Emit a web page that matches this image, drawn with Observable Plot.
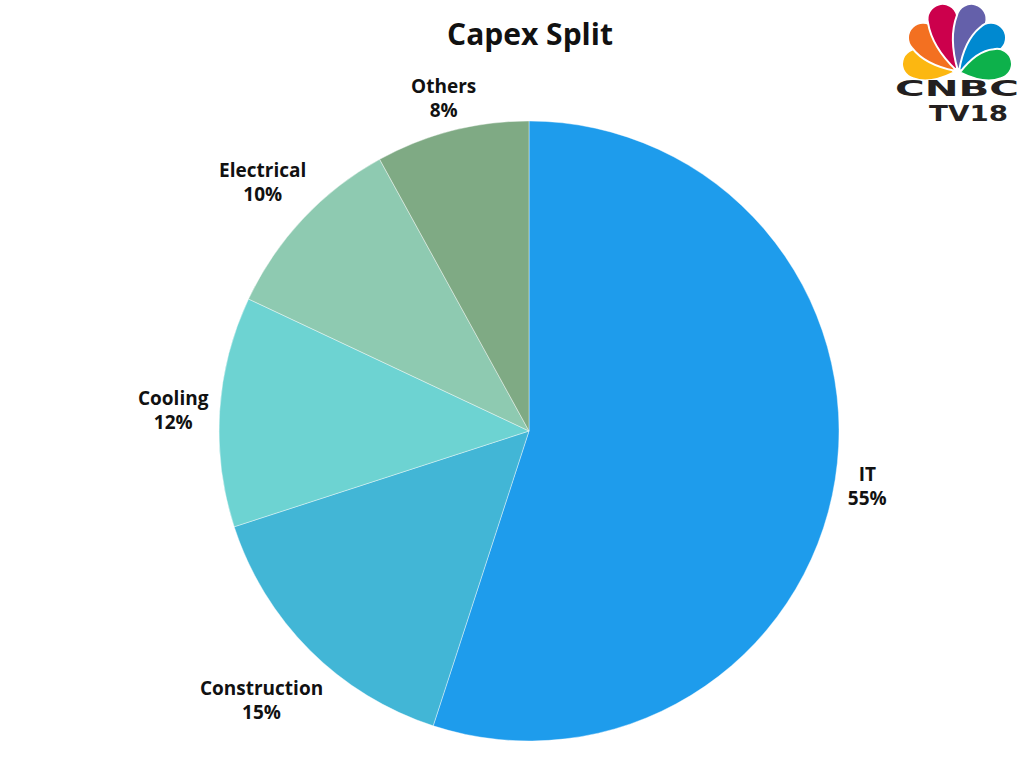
<!DOCTYPE html>
<html>
<head>
<meta charset="utf-8">
<script src="https://cdn.jsdelivr.net/npm/d3@7"></script>
<script src="https://cdn.jsdelivr.net/npm/@observablehq/plot@0.6"></script>
<style>
  html, body { margin: 0; padding: 0; background: #fff; }
  #wrap { position: relative; width: 1024px; height: 768px; overflow: hidden; font-family: "Open Sans", sans-serif; }
  #title { position: absolute; left: 0; width: 1060px; top: 13px; text-align: center; font-size: 30px; font-weight: 700; color: #111; }
  #logo { position: absolute; left: 880px; top: 0; }
  #chart { position: absolute; left: 0; top: 0; }
</style>
</head>
<body>
<div id="wrap">
  <div id="chart"></div>
  <div id="title">Capex Split</div>
  <svg id="logo" width="144" height="130" viewBox="0 0 144 130"></svg>
</div>
<script>
// ---- data ----
const categories = ["IT", "Construction", "Cooling", "Electrical", "Others"];
const shares = [55, 15, 12, 10, 8];
const palette = ["#1E9CEC", "#42B6D6", "#6DD3D2", "#8ECAB1", "#7FAA84"];

const data = categories.map((name, i) => ({ name, share: shares[i] }));

// ---- layout ----
const W = 1024, H = 768;
const cx = 529, cy = 431;   // pie centre in pixels
const R = 310;              // pie radius
const labelRadius = [342, 379, 357, 366, 345]; // distance of each label from the centre

const arcs = d3.pie().sort(null).value(d => d.share)(data);
const labels = arcs.map((a, i) => {
  const m = (a.startAngle + a.endAngle) / 2;
  const lr = labelRadius[i];
  return { name: a.data.name, share: a.data.share, x: lr * Math.sin(m), y: -lr * Math.cos(m) };
});

const colorScale = Plot.scale({ color: { type: "ordinal", domain: categories, range: palette } });

const pieMark = (index, scales) => {
  const { x, y } = scales;
  const r = x(R) - x(0);
  const arcGen = d3.arc().innerRadius(0).outerRadius(r);
  const g = d3.create("svg:g").attr("transform", `translate(${x(0)},${y(0)})`);
  g.selectAll("path")
    .data(arcs)
    .join("path")
    .attr("d", arcGen)
    .attr("fill", d => colorScale.apply(d.data.name))
    .attr("stroke", "#ffffff")
    .attr("stroke-opacity", 0.5)
    .attr("stroke-width", 0.8);
  return g.node();
};

const plot = Plot.plot({
  width: W,
  height: H,
  margin: 0,
  x: { domain: [-cx, W - cx], range: [0, W], axis: null },
  y: { domain: [-cy, H - cy], range: [0, H], axis: null },
  marks: [
    pieMark,
    Plot.text(labels, {
      x: "x",
      y: "y",
      text: d => `${d.name}\n${d.share}%`,
      fontSize: 19,
      fontWeight: 700,
      fill: "#111",
      lineHeight: 1.28,
      textAnchor: "middle",
      fontFamily: "Open Sans"
    })
  ]
});
document.getElementById("chart").appendChild(plot);

// ---- logo (decorative) ----
const logo = d3.select("#logo");
const petals = [
  { c: "#FCB711", a: -77, l: 56 },
  { c: "#F37021", a: -44, l: 64 },
  { c: "#CC004C", a: -15, l: 71 },
  { c: "#6460AA", a: 15, l: 71 },
  { c: "#0089D0", a: 44, l: 64 },
  { c: "#0DB14B", a: 77, l: 56 }
];
const petalPath = l => `M0,-3 C-9,-${l*0.25} -17,-${l*0.5} -15,-${l-15} A15,15 0 0 1 15,-${l-15} C17,-${l*0.5} 9,-${l*0.25} 0,-3 Z`;
logo.selectAll("path").data(petals).join("path")
  .attr("d", d => petalPath(d.l))
  .attr("fill", d => d.c)
  .attr("stroke", "#fff").attr("stroke-width", 2)
  .attr("transform", d => `translate(77,73) rotate(${d.a})`);
logo.append("text").attr("x", 15).attr("y", 96).attr("font-size", 22)
  .attr("textLength", 124).attr("lengthAdjust", "spacingAndGlyphs")
  .attr("font-family", "DejaVu Sans").attr("font-weight", 700).attr("fill", "#231f20").text("CNBC");
logo.append("text").attr("x", 49).attr("y", 121).attr("font-size", 21)
  .attr("textLength", 79).attr("lengthAdjust", "spacingAndGlyphs")
  .attr("font-family", "DejaVu Sans").attr("font-weight", 700).attr("fill", "#231f20").text("TV18");
</script>
</body>
</html>
